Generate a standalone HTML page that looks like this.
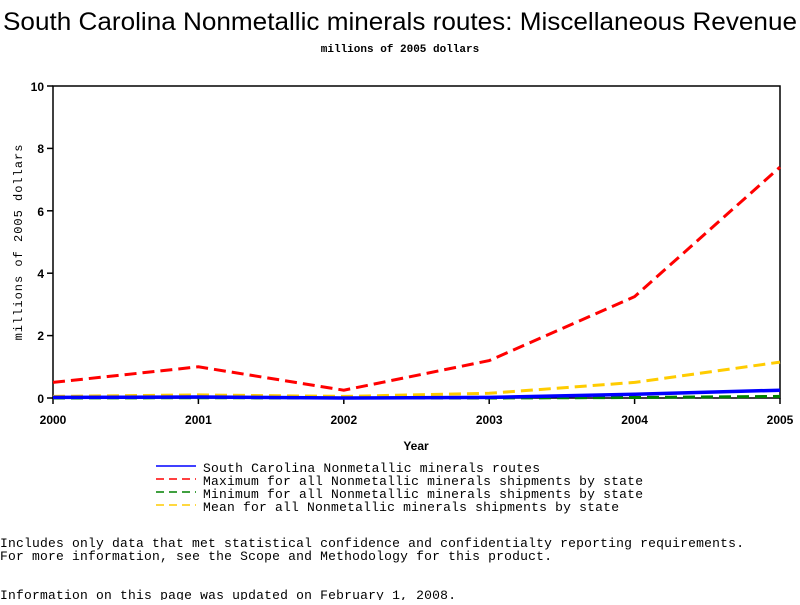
<!DOCTYPE html>
<html><head><style>
body{margin:0;background:#fff;width:800px;height:600px;overflow:hidden}
</style></head><body>
<svg width="800" height="600" xmlns="http://www.w3.org/2000/svg" font-family="Liberation Sans, sans-serif">
<text x="3" y="30" font-size="25" textLength="794" lengthAdjust="spacingAndGlyphs">South Carolina Nonmetallic minerals routes: Miscellaneous Revenue</text>
<text x="400" y="52" font-size="11" font-weight="bold" text-anchor="middle" font-family="Liberation Mono, monospace">millions of 2005 dollars</text>
<rect x="53" y="86" width="727" height="312" fill="none" stroke="#000" stroke-width="1.5"/>
<g stroke="#000" stroke-width="1.5">
<line x1="47" y1="86" x2="53" y2="86"/><line x1="47" y1="148.4" x2="53" y2="148.4"/><line x1="47" y1="210.8" x2="53" y2="210.8"/><line x1="47" y1="273.2" x2="53" y2="273.2"/><line x1="47" y1="335.6" x2="53" y2="335.6"/><line x1="47" y1="398" x2="53" y2="398"/>
<line x1="53" y1="398" x2="53" y2="404"/><line x1="198.4" y1="398" x2="198.4" y2="404"/><line x1="343.8" y1="398" x2="343.8" y2="404"/><line x1="489.2" y1="398" x2="489.2" y2="404"/><line x1="634.6" y1="398" x2="634.6" y2="404"/><line x1="780" y1="398" x2="780" y2="404"/>
</g>
<g font-size="12" font-weight="bold" text-anchor="end">
<text x="44" y="91">10</text><text x="44" y="153">8</text><text x="44" y="216">6</text><text x="44" y="278">4</text><text x="44" y="340">2</text><text x="44" y="403">0</text>
</g>
<g font-size="12" font-weight="bold" text-anchor="middle">
<text x="53" y="424">2000</text><text x="198.4" y="424">2001</text><text x="343.8" y="424">2002</text><text x="489.2" y="424">2003</text><text x="634.6" y="424">2004</text><text x="780" y="424">2005</text>
<text x="416" y="450">Year</text>
</g>
<text transform="translate(22,242) rotate(-90)" font-size="12" text-anchor="middle" font-family="Liberation Mono, monospace" letter-spacing="1">millions of 2005 dollars</text>
<polyline fill="none" stroke="#ffcc00" stroke-width="3" stroke-dasharray="12,6" points="53,396.4 198.4,394.9 343.8,396.4 489.2,393.3 634.6,382.4 780,362.1"/>
<polyline fill="none" stroke="#008000" stroke-width="3" stroke-dasharray="12,6" points="53,398 198.4,397.7 343.8,398 489.2,398 634.6,397.5 780,396.4"/>
<polyline fill="none" stroke="#0000ff" stroke-width="3.5" points="53,397.4 198.4,397 343.8,398 489.2,397.4 634.6,394.3 780,390.2"/>
<polyline fill="none" stroke="#ff0000" stroke-width="3" stroke-dasharray="12,6" points="53,382.4 198.4,366.8 343.8,390.2 489.2,360.6 634.6,296.6 780,167.1"/>
<g font-size="13" font-family="Liberation Mono, monospace" lengthAdjust="spacingAndGlyphs">
<line x1="156" y1="466" x2="196" y2="466" stroke="#0000ff" stroke-width="1.5"/>
<text x="203" y="472" textLength="337">South Carolina Nonmetallic minerals routes</text>
<line x1="156" y1="479" x2="196" y2="479" stroke="#ff0000" stroke-width="1.5" stroke-dasharray="8,5"/>
<text x="203" y="485" textLength="440">Maximum for all Nonmetallic minerals shipments by state</text>
<line x1="156" y1="492" x2="196" y2="492" stroke="#008000" stroke-width="1.5" stroke-dasharray="8,5"/>
<text x="203" y="498" textLength="440">Minimum for all Nonmetallic minerals shipments by state</text>
<line x1="156" y1="505" x2="196" y2="505" stroke="#ffcc00" stroke-width="1.5" stroke-dasharray="8,5"/>
<text x="203" y="511" textLength="416">Mean for all Nonmetallic minerals shipments by state</text>
<text x="0" y="547" textLength="744">Includes only data that met statistical confidence and confidentialty reporting requirements.</text>
<text x="0" y="560" textLength="552">For more information, see the Scope and Methodology for this product.</text>
<text x="0" y="599" textLength="456">Information on this page was updated on February 1, 2008.</text>
</g>
</svg>
</body></html>
